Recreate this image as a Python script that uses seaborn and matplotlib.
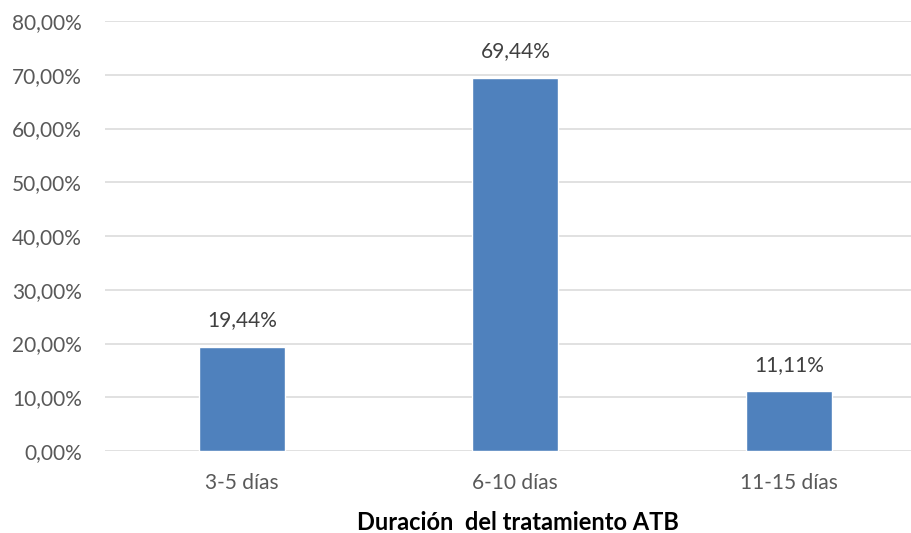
import matplotlib
matplotlib.use("Agg")
import matplotlib.pyplot as plt
import seaborn as sns
import pandas as pd
from matplotlib.ticker import FuncFormatter

categories = ["3-5 días", "6-10 días", "11-15 días"]
values = [0.1944, 0.6944, 0.1111]
y_ticks = [0.0, 0.1, 0.2, 0.3, 0.4, 0.5, 0.6, 0.7, 0.8]
x_title = "Duración  del tratamiento ATB"

sns.set_theme(style="white")
plt.rcParams["font.family"] = ["Lato", "DejaVu Sans"]

df = pd.DataFrame({"duracion": categories, "porcentaje": values})

fig = plt.figure(figsize=(9.12, 5.33), dpi=100)
ax = fig.add_axes([0.1151, 0.1538, 0.8849, 0.8068])

sns.barplot(data=df, x="duracion", y="porcentaje", color="#4F81BD",
            width=0.315, saturation=1, ax=ax, zorder=3)

ax.set_ylim(0, 0.8)
ax.set_xlim(-0.5, 2.45)
ax.set_yticks(y_ticks)
ax.yaxis.set_major_formatter(FuncFormatter(lambda v, _: f"{v*100:.2f}%".replace(".", ",")))
ax.grid(axis="y", color="#D9D9D9", linewidth=1.1, zorder=0)
ax.grid(axis="x", visible=False)
for s in ax.spines.values():
    s.set_visible(False)

ax.tick_params(axis="y", length=0, pad=16.5, labelsize=15, labelcolor="#595959")
ax.tick_params(axis="x", length=0, pad=16, labelsize=15, labelcolor="#595959")

ax.set_ylabel("")
ax.set_xlabel(x_title, fontsize=17, fontweight="bold", color="black", va="center")
ax.xaxis.set_label_coords(0.512, -0.1665)

for i, v in enumerate(values):
    ax.annotate(f"{v*100:.2f}%".replace(".", ","), (i, v), xytext=(0, 12),
                textcoords="offset points", ha="center", va="bottom",
                fontsize=15, color="#404040")

fig.savefig("out.png", dpi=100)
